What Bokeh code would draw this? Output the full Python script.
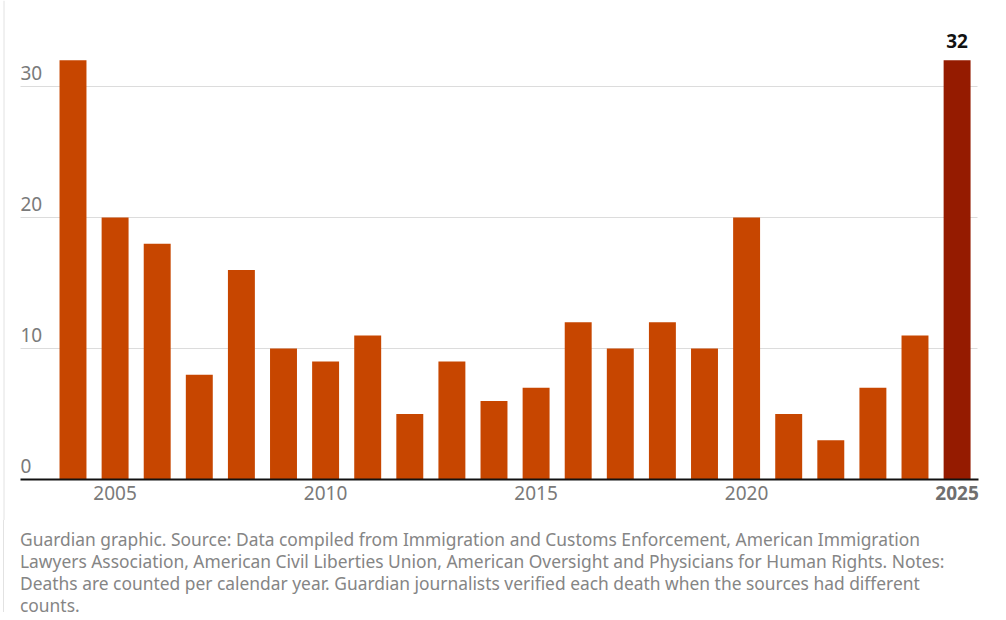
from bokeh.plotting import figure
from bokeh.models import ColumnDataSource, Span, LabelSet, Label, Range1d, Div
from bokeh.core.properties import value
from bokeh.layouts import column
from bokeh.embed import file_html
from bokeh.resources import INLINE

# ---- data ----
years = list(range(2004, 2026))
deaths = [32, 20, 18, 8, 16, 10, 9, 11, 5, 9, 6, 7, 12, 10, 12, 10, 20, 5, 3, 7, 11, 32]
highlight_year = 2025
y_ticks = [0, 10, 20, 30]
y_tick_labels = ["0", "10", "20", "30"]
x_ticks = [2005, 2010, 2015, 2020]
x_tick_labels = ["2005", "2010", "2015", "2020"]
note_lines = [
    "Guardian graphic. Source: Data compiled from Immigration and Customs Enforcement, American Immigration",
    "Lawyers Association, American Civil Liberties Union, American Oversight and Physicians for Human Rights. Notes:",
    "Deaths are counted per calendar year. Guardian journalists verified each death when the sources had different",
    "counts.",
]

ORANGE = "#c74600"
DARK = "#951b00"
FONT = "Noto Sans"
LABEL_GRAY = "#7a7a7a"

# ---- geometry (pixels -> data) ----
W, H = 1000, 520
PX_PER_YEAR = 42.1
PX_PER_UNIT = 13.1
X0 = 2004 - 72.5 / PX_PER_YEAR
X1 = X0 + W / PX_PER_YEAR
ZERO_PX = 479
Y1 = ZERO_PX / PX_PER_UNIT
Y0 = -(H - ZERO_PX) / PX_PER_UNIT
x_left = X0 + 20 / PX_PER_YEAR
x_right = X0 + 977 / PX_PER_YEAR

colors = [DARK if y == highlight_year else ORANGE for y in years]
src = ColumnDataSource(dict(x=years, top=deaths, color=colors))

p = figure(width=W, height=H, output_backend="svg", toolbar_location=None,
           x_range=Range1d(X0, X1), y_range=Range1d(Y0, Y1), min_border=0)
p.outline_line_color = None
p.xaxis.visible = False
p.yaxis.visible = False
p.xgrid.visible = False
p.ygrid.visible = False

# faint page border on the left
p.add_layout(Span(location=X0 + 3.5 / PX_PER_YEAR, dimension="height",
                  line_color="#e2e2e2", line_width=1))

# gridlines
grid_y = [t for t in y_ticks if t > 0]
p.segment(x0=[x_left] * len(grid_y), x1=[x_right] * len(grid_y), y0=grid_y, y1=grid_y,
          line_color="#dcdcdc", line_width=1)

# bars
p.vbar(x="x", top="top", width=0.64, bottom=0, color="color", line_color=None, source=src)

# baseline
p.segment(x0=[x_left], x1=[x_right + 1 / PX_PER_YEAR], y0=[0], y1=[0],
          line_color="#121212", line_width=2)

# y tick labels (above gridlines)
ysrc = ColumnDataSource(dict(x=[x_left] * len(y_ticks), y=y_ticks, t=y_tick_labels))
p.add_layout(LabelSet(x="x", y="y", text="t", source=ysrc, y_offset=14,
                      text_font=value(FONT), text_font_size=value("19px"),
                      text_color=LABEL_GRAY, text_align="left", text_baseline="middle"))

# x tick labels
xsrc = ColumnDataSource(dict(x=x_ticks, y=[0] * len(x_ticks), t=x_tick_labels))
p.add_layout(LabelSet(x="x", y="y", text="t", source=xsrc, y_offset=-13.5,
                      text_font=value(FONT), text_font_size=value("19px"),
                      text_color=LABEL_GRAY, text_align="center", text_baseline="middle"))
p.add_layout(Label(x=highlight_year, y=0, text=str(highlight_year), y_offset=-13.5,
                   text_align="center", text_baseline="middle", text_font=FONT,
                   text_font_size="19px", text_font_style="bold", text_color="#6f6f6f"))

# value label on highlighted bar
hv = deaths[years.index(highlight_year)]
p.add_layout(Label(x=highlight_year, y=hv, text=str(hv), y_offset=19.5,
                   text_align="center", text_baseline="middle", text_font=FONT,
                   text_font_size="19px", text_font_style="bold", text_color="#121212"))

note_html = ('<div style="font-family:\'Noto Sans\';font-size:17.4px;line-height:22px;'
             'color:#858585;margin-left:3px;border-left:1px solid #e2e2e2;'
             'padding:8px 0 0 16px;white-space:nowrap;height:92px;">'
             + "<br>".join(note_lines) + "</div>")
note = Div(text=note_html, width=W, height=100, margin=(0, 0, 0, 0))

layout = column(p, note, spacing=0)
open("out.html", "w").write(file_html(layout, INLINE))
